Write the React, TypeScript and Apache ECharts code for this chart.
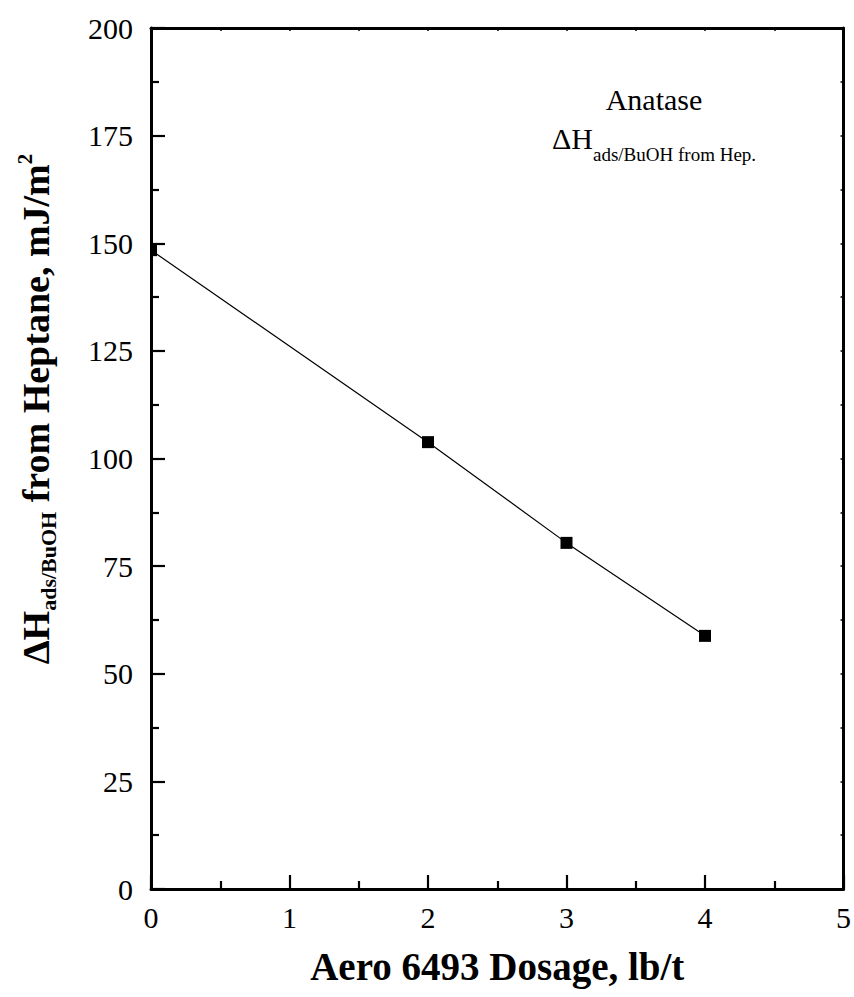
import React, { useEffect, useRef } from "react";
import * as echarts from "echarts";

const dosage = [0, 2, 3, 4];
const enthalpy = [148.4, 103.8, 80.4, 58.8];
const xTicks = [0, 1, 2, 3, 4, 5];
const yTicks = [0, 25, 50, 75, 100, 125, 150, 175, 200];

const FONT = "Liberation Serif, Times New Roman, serif";

export default function App() {
  const ref = useRef<HTMLDivElement>(null);
  useEffect(() => {
    const chart = echarts.init(ref.current!, null, { renderer: "svg" });
    const points = dosage.map((d, i) => [d, enthalpy[i]]);
    const axisLine = { show: true, onZero: false, lineStyle: { color: "#000", width: 3 } };
    const smallTick = { show: true, inside: true, length: 3, lineStyle: { color: "#000", width: 1.5 } };
    const smallMinor = { show: true, splitNumber: 2, length: 3, lineStyle: { color: "#000", width: 1.5 } };
    chart.setOption({
      animation: false,
      backgroundColor: "#ffffff",
      grid: { left: 151, right: 9, top: 28, bottom: 108, containLabel: false },
      xAxis: [
        {
          type: "value",
          min: xTicks[0],
          max: xTicks[xTicks.length - 1],
          interval: 1,
          position: "bottom",
          z: 10,
          name: "Aero 6493 Dosage, lb/t",
          nameLocation: "middle",
          nameGap: 58,
          nameTextStyle: { fontFamily: FONT, fontSize: 39, fontWeight: "bold", color: "#000" },
          axisLine,
          axisTick: { show: true, inside: true, length: 14, lineStyle: { color: "#000", width: 2.2 } },
          minorTick: { show: true, splitNumber: 2, length: 8, lineStyle: { color: "#000", width: 2.2 } },
          axisLabel: { fontFamily: FONT, fontSize: 30, color: "#000", margin: 13 },
          splitLine: { show: false },
        },
        {
          type: "value",
          min: 0,
          max: 5,
          interval: 1,
          position: "top",
          z: 10,
          axisLine,
          axisTick: smallTick,
          minorTick: smallMinor,
          axisLabel: { show: false },
          splitLine: { show: false },
        },
      ],
      yAxis: [
        {
          type: "value",
          min: yTicks[0],
          max: yTicks[yTicks.length - 1],
          interval: 25,
          position: "left",
          z: 10,
          axisLine,
          axisTick: { show: true, inside: true, length: 14, lineStyle: { color: "#000", width: 2.2 } },
          minorTick: { show: true, splitNumber: 2, length: 8, lineStyle: { color: "#000", width: 2.2 } },
          axisLabel: { fontFamily: FONT, fontSize: 30, color: "#000", margin: 18 },
          splitLine: { show: false },
        },
        {
          type: "value",
          min: 0,
          max: 200,
          interval: 25,
          position: "right",
          z: 10,
          axisLine,
          axisTick: smallTick,
          minorTick: smallMinor,
          axisLabel: { show: false },
          splitLine: { show: false },
        },
      ],
      graphic: [
        {
          type: "rect",
          z: 5,
          shape: { x: 136, y: 28, width: 14, height: 861 },
          style: { fill: "#ffffff" },
        },
        {
          type: "text",
          x: 36,
          y: 409,
          rotation: Math.PI / 2,
          style: {
            text: "{a|ΔH}{b|ads/BuOH}{a| from Heptane, mJ/m}{c|2}",
            align: "center",
            verticalAlign: "middle",
            fill: "#000",
            rich: {
              a: { fontFamily: FONT, fontSize: 38, fontWeight: "bold", fill: "#000" },
              b: { fontFamily: FONT, fontSize: 22, fontWeight: "bold", fill: "#000", padding: [24, 0, 0, 0] },
              c: { fontFamily: FONT, fontSize: 21, fontWeight: "bold", fill: "#000", padding: [0, 0, 22, 0] },
            },
          },
        },
        {
          type: "text",
          x: 654,
          y: 99,
          style: {
            text: "Anatase",
            align: "center",
            verticalAlign: "middle",
            fontFamily: FONT,
            fontSize: 30,
            fill: "#000",
          },
        },
        {
          type: "text",
          x: 552,
          y: 138,
          style: {
            text: "ΔH",
            align: "left",
            verticalAlign: "middle",
            fontFamily: FONT,
            fontSize: 30,
            fill: "#000",
          },
        },
        {
          type: "text",
          x: 593,
          y: 154,
          style: {
            text: "ads/BuOH from Hep.",
            align: "left",
            verticalAlign: "middle",
            fontFamily: FONT,
            fontSize: 19,
            fill: "#000",
          },
        },
      ],
      series: [
        {
          type: "line",
          data: points,
          symbol: "rect",
          symbolSize: 12,
          showSymbol: true,
          clip: false,
          lineStyle: { color: "#000", width: 1.2 },
          itemStyle: { color: "#000" },
          z: 2,
        },
      ],
    });
    return () => chart.dispose();
  }, []);
  return <div ref={ref} style={{ position: "fixed", left: 0, top: 0, width: 854, height: 997 }} />;
}
